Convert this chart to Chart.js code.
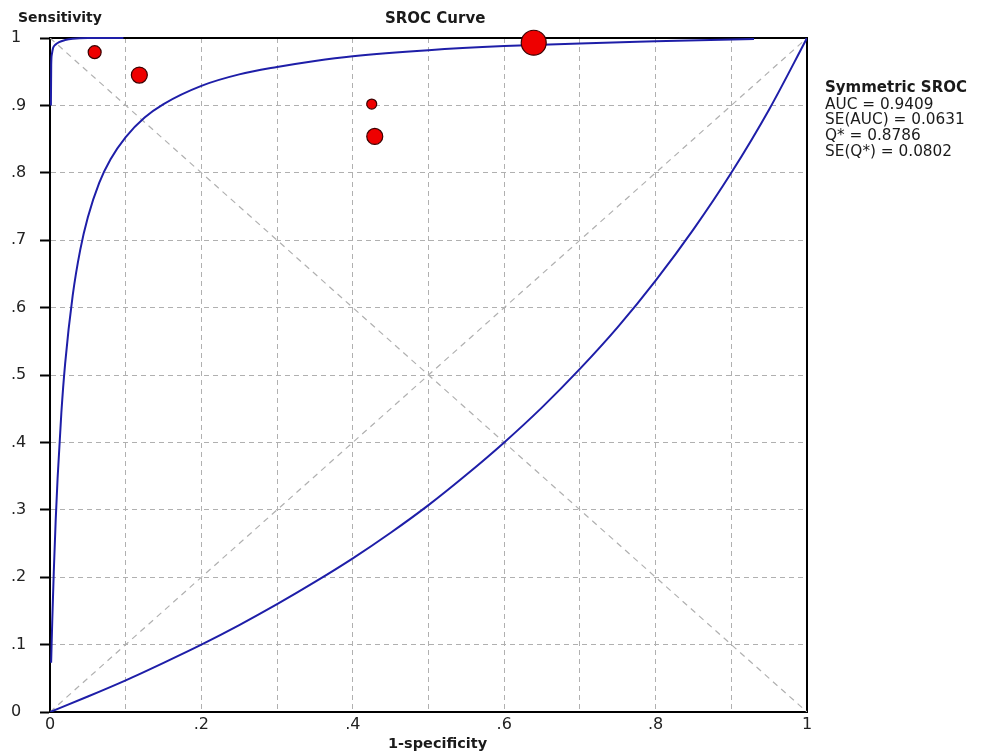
<!DOCTYPE html>
<html>
<head>
<meta charset="utf-8">
<script src="https://cdn.jsdelivr.net/npm/chart.js@4"></script>
<style>
html,body{margin:0;padding:0;background:#fff;}
#c{display:block;}
</style>
</head>
<body>
<canvas id="c" width="981" height="755"></canvas>
<script>
// ---- data ----
const studyFpr    = [0.059, 0.118, 0.425, 0.429, 0.639];
const studySens   = [0.979, 0.945, 0.902, 0.854, 0.993];
const studyWeight = [42, 64, 25, 64, 156];

const srocFpr  = [0.0015, 0.003, 0.005, 0.0075, 0.01, 0.015, 0.02, 0.03, 0.04, 0.05, 0.065, 0.08, 0.1, 0.125, 0.15, 0.2, 0.25, 0.3, 0.35, 0.4, 0.5, 0.6, 0.7, 0.8, 0.93];
const srocSens = [0.073, 0.136, 0.208, 0.284, 0.346, 0.444, 0.517, 0.618, 0.686, 0.734, 0.785, 0.820, 0.853, 0.882, 0.902, 0.929, 0.946, 0.957, 0.966, 0.973, 0.982, 0.988, 0.992, 0.995, 0.9986];

const upperFpr  = [0.0012, 0.0016, 0.0025, 0.004, 0.007, 0.012, 0.02, 0.03, 0.05, 0.097];
const upperSens = [0.900, 0.960, 0.976, 0.985, 0.990, 0.994, 0.997, 0.999, 1.0, 1.0];

const lowerFpr  = [0, 0.05, 0.1, 0.15, 0.2, 0.25, 0.3, 0.35, 0.4, 0.45, 0.5, 0.55, 0.6, 0.65, 0.7, 0.75, 0.8, 0.85, 0.9, 0.95, 1];
const lowerSens = [0, 0.023, 0.047, 0.073, 0.100, 0.129, 0.160, 0.193, 0.228, 0.266, 0.307, 0.352, 0.400, 0.452, 0.509, 0.571, 0.640, 0.716, 0.800, 0.894, 1];

const diagX = [0, 1];
const diagY = [0, 1];
const antiY = [1, 0];

const chartTitle = 'SROC Curve';
const yTitle = 'Sensitivity';
const xTitle = '1-specificity';
const statsTitle = 'Symmetric SROC';
const statsLines = ['AUC = 0.9409', 'SE(AUC) = 0.0631', 'Q* = 0.8786', 'SE(Q*) = 0.0802'];

// ---- build ----
const pts = (xs, ys) => xs.map((x, i) => ({x: x, y: ys[i]}));
const BLUE = '#1e1ea8';
const GRID = '#b0b0b0';

const fmtTick = v => {
  const n = Math.round(v * 10);
  if (n === 0) return '0';
  if (n === 10) return '1';
  return '.' + n;
};

const framePlugin = {
  id: 'frame',
  beforeDatasetsDraw(chart) {
    const {ctx, chartArea: a} = chart;
    ctx.save();
    ctx.strokeStyle = '#000';
    ctx.lineWidth = 2;
    ctx.strokeRect(a.left, a.top, a.right - a.left, a.bottom - a.top);
    ctx.restore();
  }
};

const textPlugin = {
  id: 'texts',
  afterDraw(chart) {
    const ctx = chart.ctx;
    ctx.save();
    ctx.fillStyle = '#1a1a1a';
    ctx.textBaseline = 'alphabetic';
    ctx.textAlign = 'left';
    ctx.font = 'bold 14px "DejaVu Sans"';
    ctx.fillText(yTitle, 18, 22);
    ctx.font = 'bold 15px "DejaVu Sans"';
    ctx.fillText(chartTitle, 385, 23);
    ctx.font = 'bold 14.5px "DejaVu Sans"';
    ctx.fillText(xTitle, 388, 748);
    ctx.font = 'bold 15px "DejaVu Sans"';
    ctx.fillText(statsTitle, 825, 92);
    ctx.font = '15.3px "DejaVu Sans"';
    statsLines.forEach((s, i) => ctx.fillText(s, 825, 108.5 + i * 15.7));
    ctx.restore();
  }
};

new Chart(document.getElementById('c'), {
  type: 'scatter',
  data: {
    datasets: [
      {
        data: pts(studyFpr, studySens),
        pointRadius: studyWeight.map(w => Math.sqrt(w)),
        pointBackgroundColor: '#ee0000',
        pointBorderColor: '#3a0000',
        pointBorderWidth: 1.2,
        clip: false
      },
      {
        data: pts(srocFpr, srocSens), showLine: true, pointRadius: 0,
        borderColor: BLUE, borderWidth: 2, cubicInterpolationMode: 'monotone', clip: false
      },
      {
        data: pts(upperFpr, upperSens), showLine: true, pointRadius: 0,
        borderColor: BLUE, borderWidth: 2, cubicInterpolationMode: 'monotone', clip: false
      },
      {
        data: pts(lowerFpr, lowerSens), showLine: true, pointRadius: 0,
        borderColor: BLUE, borderWidth: 2, cubicInterpolationMode: 'monotone'
      },
      {
        data: pts(diagX, diagY), showLine: true, pointRadius: 0,
        borderColor: GRID, borderWidth: 1.2, borderDash: [6, 5]
      },
      {
        data: pts(diagX, antiY), showLine: true, pointRadius: 0,
        borderColor: GRID, borderWidth: 1.2, borderDash: [6, 5]
      }
    ]
  },
  options: {
    responsive: false,
    animation: false,
    devicePixelRatio: 1,
    layout: {padding: {left: 11, top: 38, right: 174, bottom: 0}},
    plugins: {legend: {display: false}, tooltip: {enabled: false}},
    scales: {
      x: {
        type: 'linear', min: 0, max: 1,
        afterFit: s => { s.height = 43; },
        ticks: {
          stepSize: 0.1, autoSkip: false, maxRotation: 0, minRotation: 0,
          callback: v => (Math.round(v * 10) % 2 ? '' : fmtTick(v)),
          font: {family: '"DejaVu Sans"', size: 16}, color: '#222', padding: 3
        },
        grid: {color: GRID, lineWidth: 1, drawTicks: false},
        border: {display: true, color: '#000', width: 2, dash: [5, 4]}
      },
      y: {
        type: 'linear', min: 0, max: 1,
        afterFit: s => { s.width = 39; },
        ticks: {
          stepSize: 0.1, autoSkip: false, crossAlign: 'far',
          callback: fmtTick,
          font: {family: '"DejaVu Sans"', size: 16}, color: '#222'
        },
        grid: {color: GRID, lineWidth: 1, drawTicks: true, tickLength: 10, tickColor: '#000', tickWidth: 2, tickBorderDash: []},
        border: {display: true, color: '#000', width: 2, dash: [5, 4]}
      }
    }
  },
  plugins: [framePlugin, textPlugin]
});
</script>
</body>
</html>
